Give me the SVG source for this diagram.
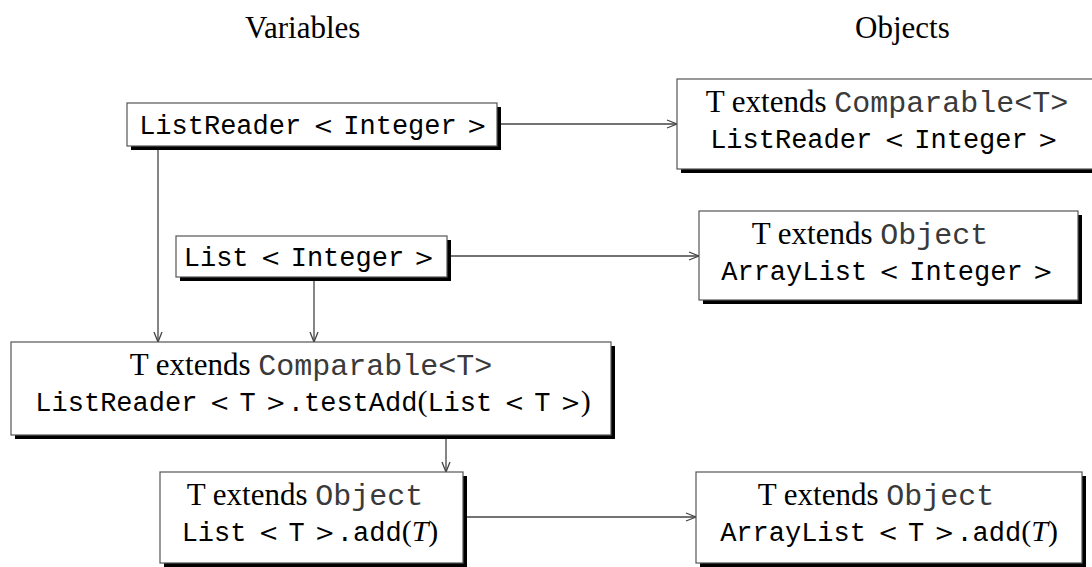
<svg xmlns="http://www.w3.org/2000/svg" width="1092" height="567" viewBox="0 0 1092 567">
  <defs>
    <style>
      .box { fill: #ffffff; stroke: #555555; stroke-width: 1.2; }
      .shadow { fill: #000000; }
      .rm { font-family: "Liberation Serif", "Times New Roman", serif; font-size: 31px; fill: #000; }
      .cr { font-family: "Liberation Mono", "Courier New", monospace; font-size: 30px; fill: #3a3a3a; }
      .tt { font-family: "Liberation Mono", "Courier New", monospace; font-size: 27px; fill: #000; }
      .op { font-family: "DejaVu Serif", serif; font-size: 24px; fill: #000; }
      .par { font-family: "Liberation Serif", serif; font-size: 30px; fill: #000; }
      .it { font-family: "Liberation Serif", serif; font-size: 30px; font-style: italic; fill: #000; }
      .hdr { font-family: "Liberation Serif", "Times New Roman", serif; font-size: 31px; fill: #000; }
      .conn { stroke: #444444; stroke-width: 1.3; fill: none; marker-end: url(#arrow); }
    </style>
    <marker id="arrow" markerUnits="userSpaceOnUse" viewBox="0 0 12 10" refX="11" refY="5" markerWidth="12" markerHeight="10" orient="auto">
      <path d="M1,1 L11,5 L1,9" fill="none" stroke="#444444" stroke-width="1.3"/>
    </marker>
  </defs>

  <rect width="1092" height="567" fill="#ffffff"/>

  <!-- column headings -->
  <text class="hdr" x="245" y="38">Variables</text>
  <text class="hdr" x="855" y="38">Objects</text>

  <!-- connectors -->
  <g id="connectors">
    <path class="conn" d="M501,124 H677"/>
    <path class="conn" d="M158,150 V342"/>
    <path class="conn" d="M451,256 H699"/>
    <path class="conn" d="M314,281 V342"/>
    <path class="conn" d="M446,439 V472"/>
    <path class="conn" d="M467,517 H696"/>
  </g>

  <!-- variable: ListReader<Integer> -->
  <g id="var-listreader">
    <rect class="shadow" x="131" y="107" width="370" height="43"/>
    <rect class="box" x="127" y="103" width="370" height="43"/>
    <text x="313" y="134" text-anchor="middle"><tspan class="tt">ListReader</tspan><tspan class="op" dx="12">&lt;</tspan><tspan class="tt" dx="10">Integer</tspan><tspan class="op" dx="10">&gt;</tspan></text>
  </g>

  <!-- object: ListReader<Integer> -->
  <g id="obj-listreader">
    <rect class="shadow" x="681" y="83" width="420" height="90"/>
    <rect class="box" x="677" y="79" width="420" height="90"/>
    <text x="887" y="112" text-anchor="middle"><tspan class="rm">T extends </tspan><tspan class="cr">Comparable&lt;T&gt;</tspan></text>
    <text x="884" y="148" text-anchor="middle"><tspan class="tt">ListReader</tspan><tspan class="op" dx="12">&lt;</tspan><tspan class="tt" dx="10">Integer</tspan><tspan class="op" dx="10">&gt;</tspan></text>
  </g>

  <!-- variable: List<Integer> -->
  <g id="var-list">
    <rect class="shadow" x="180" y="240" width="271" height="41"/>
    <rect class="box" x="176" y="236" width="271" height="41"/>
    <text x="309" y="266" text-anchor="middle"><tspan class="tt">List</tspan><tspan class="op" dx="12">&lt;</tspan><tspan class="tt" dx="10">Integer</tspan><tspan class="op" dx="10">&gt;</tspan></text>
  </g>

  <!-- object: ArrayList<Integer> -->
  <g id="obj-arraylist">
    <rect class="shadow" x="703" y="215" width="379" height="89"/>
    <rect class="box" x="699" y="211" width="379" height="89"/>
    <text x="870" y="244" text-anchor="middle"><tspan class="rm">T extends </tspan><tspan class="cr">Object</tspan></text>
    <text x="887" y="280" text-anchor="middle"><tspan class="tt">ArrayList</tspan><tspan class="op" dx="12">&lt;</tspan><tspan class="tt" dx="10">Integer</tspan><tspan class="op" dx="10">&gt;</tspan></text>
  </g>

  <!-- method: ListReader<T>.testAdd(List<T>) -->
  <g id="method-testadd">
    <rect class="shadow" x="15" y="346" width="600" height="93"/>
    <rect class="box" x="11" y="342" width="600" height="93"/>
    <text x="311" y="375" text-anchor="middle"><tspan class="rm">T extends </tspan><tspan class="cr">Comparable&lt;T&gt;</tspan></text>
    <text x="313" y="411" text-anchor="middle"><tspan class="tt">ListReader</tspan><tspan class="op" dx="12">&lt;</tspan><tspan class="tt" dx="10">T</tspan><tspan class="op" dx="10">&gt;</tspan><tspan class="tt" dx="2">.testAdd</tspan><tspan class="par">(</tspan><tspan class="tt">List</tspan><tspan class="op" dx="12">&lt;</tspan><tspan class="tt" dx="10">T</tspan><tspan class="op" dx="10">&gt;</tspan><tspan class="par">)</tspan></text>
  </g>

  <!-- method: List<T>.add(T) -->
  <g id="method-list-add">
    <rect class="shadow" x="164" y="476" width="303" height="91"/>
    <rect class="box" x="160" y="472" width="303" height="91"/>
    <text x="305" y="505" text-anchor="middle"><tspan class="rm">T extends </tspan><tspan class="cr">Object</tspan></text>
    <text x="310" y="541" text-anchor="middle"><tspan class="tt">List</tspan><tspan class="op" dx="12">&lt;</tspan><tspan class="tt" dx="10">T</tspan><tspan class="op" dx="10">&gt;</tspan><tspan class="tt" dx="2">.add</tspan><tspan class="par">(</tspan><tspan class="it">T</tspan><tspan class="par">)</tspan></text>
  </g>

  <!-- method: ArrayList<T>.add(T) -->
  <g id="method-arraylist-add">
    <rect class="shadow" x="700" y="476" width="386" height="91"/>
    <rect class="box" x="696" y="472" width="386" height="91"/>
    <text x="876" y="505" text-anchor="middle"><tspan class="rm">T extends </tspan><tspan class="cr">Object</tspan></text>
    <text x="889" y="541" text-anchor="middle"><tspan class="tt">ArrayList</tspan><tspan class="op" dx="12">&lt;</tspan><tspan class="tt" dx="10">T</tspan><tspan class="op" dx="10">&gt;</tspan><tspan class="tt" dx="2">.add</tspan><tspan class="par">(</tspan><tspan class="it">T</tspan><tspan class="par">)</tspan></text>
  </g>
</svg>
